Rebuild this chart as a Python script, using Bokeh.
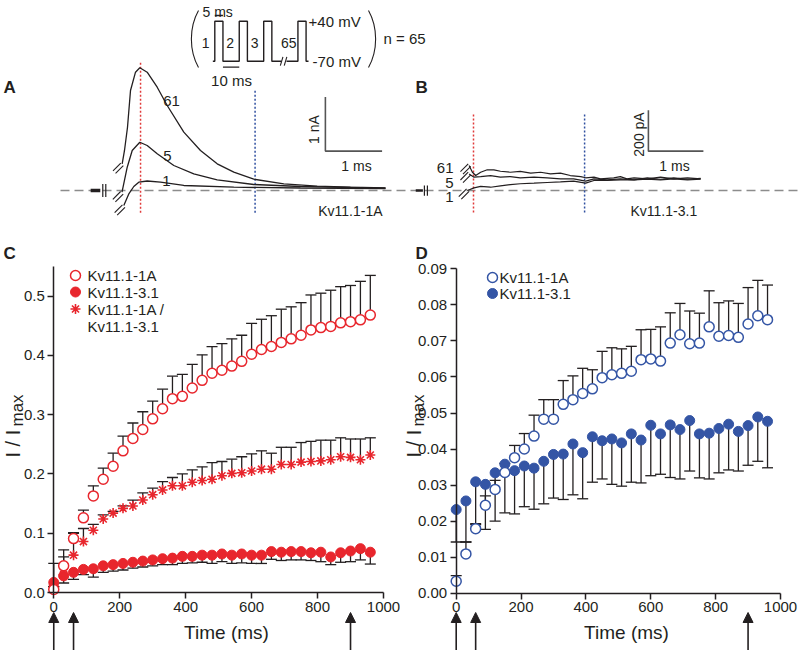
import math
from bokeh.plotting import figure
from bokeh.models import Range1d, Label, Arrow, NormalHead, FixedTicker, PrintfTickFormatter
from bokeh.layouts import column, row
from bokeh.embed import file_html
from bokeh.resources import INLINE

FONT = "Liberation Sans"
INK = "#231f20"
RED = "#e8262d"
BLUE = "#3455a5"
DASH_GREY = "#8c8c8c"
BAR_GREY = "#555555"
WIN_RED = "#e03a3a"
WIN_BLUE = "#3050a0"

# ---------------- data: panels C and D ----------------
time_ms = [0, 30, 60, 90, 120, 150, 180, 210, 240, 270, 300, 330, 360, 390, 420, 450,
           480, 510, 540, 570, 600, 630, 660, 690, 720, 750, 780, 810, 840, 870, 900, 930, 960]

c_1a = [0.005, 0.045, 0.091, 0.126, 0.163, 0.191, 0.213, 0.239, 0.260, 0.275, 0.293, 0.310,
        0.327, 0.331, 0.345, 0.358, 0.370, 0.375, 0.382, 0.390, 0.402, 0.410, 0.415, 0.422,
        0.428, 0.434, 0.443, 0.447, 0.449, 0.455, 0.457, 0.460, 0.468]
c_1a_upper = [0.010, 0.072, 0.101, 0.139, 0.180, 0.210, 0.235, 0.264, 0.286, 0.305, 0.323, 0.343,
              0.365, 0.368, 0.385, 0.401, 0.415, 0.420, 0.428, 0.434, 0.454, 0.461, 0.467, 0.478,
              0.482, 0.489, 0.502, 0.505, 0.510, 0.516, 0.518, 0.525, 0.535]
c_31 = [0.017, 0.028, 0.034, 0.039, 0.040, 0.045, 0.047, 0.049, 0.051, 0.053, 0.055, 0.057,
        0.058, 0.061, 0.061, 0.063, 0.063, 0.065, 0.063, 0.065, 0.063, 0.063, 0.069, 0.068,
        0.069, 0.069, 0.067, 0.068, 0.060, 0.067, 0.070, 0.074, 0.068]
c_31_lower = [0.010, 0.016, 0.022, 0.030, 0.026, 0.034, 0.036, 0.038, 0.041, 0.043, 0.045, 0.047,
              0.047, 0.049, 0.050, 0.051, 0.049, 0.052, 0.049, 0.050, 0.049, 0.049, 0.056, 0.054,
              0.055, 0.055, 0.054, 0.052, 0.047, 0.051, 0.052, 0.055, 0.048]
c_mix = [0.012, 0.030, 0.063, 0.086, 0.105, 0.124, 0.134, 0.142, 0.146, 0.156, 0.165, 0.173,
         0.180, 0.180, 0.186, 0.189, 0.191, 0.197, 0.201, 0.202, 0.205, 0.208, 0.208, 0.216,
         0.216, 0.220, 0.221, 0.222, 0.224, 0.229, 0.228, 0.224, 0.232]
c_mix_upper = [0.049, 0.060, 0.100, 0.108, 0.115, 0.131, 0.137, 0.146, 0.156, 0.168, 0.176, 0.187,
               0.194, 0.200, 0.207, 0.212, 0.219, 0.221, 0.225, 0.229, 0.234, 0.239, 0.235, 0.245,
               0.245, 0.253, 0.255, 0.257, 0.257, 0.261, 0.259, 0.259, 0.261]

d_1a = [0.0033, 0.0109, 0.0179, 0.0244, 0.0288, 0.0335, 0.0376, 0.0400, 0.0436, 0.0483, 0.0483,
        0.0524, 0.0537, 0.0554, 0.0567, 0.0598, 0.0606, 0.0610, 0.0616, 0.0648, 0.0650, 0.0644,
        0.0694, 0.0717, 0.0692, 0.0694, 0.0739, 0.0713, 0.0715, 0.0710, 0.0747, 0.0770, 0.0759]
d_1a_upper = [0.0049, 0.0142, 0.0193, 0.0270, 0.0313, 0.0360, 0.0410, 0.0443, 0.0494, 0.0537, 0.0537,
              0.0590, 0.0603, 0.0624, 0.0620, 0.0671, 0.0681, 0.0678, 0.0685, 0.0731, 0.0732, 0.0739,
              0.0778, 0.0804, 0.0783, 0.0777, 0.0839, 0.0806, 0.0811, 0.0804, 0.0848, 0.0868, 0.0855]
d_31 = [0.0232, 0.0256, 0.0309, 0.0302, 0.0334, 0.0358, 0.0340, 0.0353, 0.0347, 0.0366, 0.0385,
        0.0386, 0.0414, 0.0390, 0.0434, 0.0423, 0.0428, 0.0417, 0.0442, 0.0425, 0.0466, 0.0442,
        0.0467, 0.0454, 0.0479, 0.0442, 0.0444, 0.0457, 0.0469, 0.0449, 0.0465, 0.0489, 0.0477]
d_31_lower = [0.0142, 0.0142, 0.0190, 0.0177, 0.0200, 0.0223, 0.0220, 0.0240, 0.0233, 0.0248, 0.0264,
              0.0260, 0.0273, 0.0262, 0.0308, 0.0317, 0.0302, 0.0297, 0.0308, 0.0306, 0.0326, 0.0330,
              0.0321, 0.0317, 0.0339, 0.0320, 0.0317, 0.0334, 0.0342, 0.0339, 0.0355, 0.0366, 0.0348]

x_ticks = [0, 200, 400, 600, 800, 1000]
c_y_ticks = [0.0, 0.1, 0.2, 0.3, 0.4, 0.5]
d_y_ticks = [0.00, 0.01, 0.02, 0.03, 0.04, 0.05, 0.06, 0.07, 0.08, 0.09]
arrow_times_ms = [0, 60, 900]

# ---------------- data: example traces ----------------
# panel A, Kv11.1-1A (ms, nA)
a61_t = [0.026, 0.067, 0.12, 0.173, 0.261, 0.337, 0.467, 0.644, 0.820, 1.113, 1.407, 1.702, 1.995,
         2.347, 2.877, 3.466, 4.053, 4.670]
a61_i = [0.494, 0.741, 1.172, 1.852, 2.191, 2.272, 2.191, 1.913, 1.574, 1.080, 0.741, 0.494, 0.339,
         0.209, 0.124, 0.080, 0.061, 0.050]
a5_t = [0.023, 0.115, 0.203, 0.337, 0.467, 0.644, 0.937, 1.289, 1.702, 2.347, 3.171, 4.670]
a5_i = [-0.031, 0.431, 0.741, 0.894, 0.833, 0.680, 0.463, 0.309, 0.198, 0.111, 0.074, 0.043]
a1_t = [0.055, 0.146, 0.231, 0.319, 0.467, 0.702, 1.113, 1.995, 3.171, 4.670]
a1_i = [-0.278, -0.056, 0.074, 0.154, 0.176, 0.154, 0.093, 0.061, 0.046, 0.037]
# panel B, Kv11.1-3.1 (ms, pA)
b61_t = [0.27, 0.33, 0.39, 0.48, 0.60, 0.72, 0.84, 1.02, 1.20, 1.39, 1.57, 1.75, 1.93, 2.11, 2.30,
         2.39, 2.54, 2.66, 2.90, 3.02, 3.14, 3.27, 3.51, 3.75, 3.99, 4.24, 4.48]
b61_i = [122, 89, 73, 89, 101, 101, 94, 89, 93, 85, 89, 81, 85, 73, 68, 62, 65, 57, 62, 68, 57, 62,
         57, 65, 57, 62, 57]
b5_t = [0.27, 0.36, 0.48, 0.66, 0.84, 1.02, 1.20, 1.45, 1.69, 1.93, 2.17, 2.39, 2.54, 2.78, 3.02,
        3.27, 3.51, 3.75, 3.99, 4.24, 4.48]
b5_i = [81, 65, 68, 73, 65, 68, 62, 65, 62, 57, 57, 46, 57, 52, 57, 52, 62, 55, 62, 55, 59]
b1_t = [0.24, 0.36, 0.48, 0.66, 0.84, 1.02, 1.20, 1.45, 1.69, 1.93, 2.17, 2.39, 2.54, 2.78, 3.02,
        3.27, 3.51, 3.75, 3.99, 4.24, 4.48]
b1_i = [0, 13, 20, 16, 23, 29, 33, 36, 39, 42, 46, 36, 49, 49, 52, 52, 55, 52, 57, 52, 55]
trace_labels = ["61", "5", "1"]
window_ms = [0.35, 2.37]          # peak / late analysis times
a_hold_t = [-0.53, -0.36]
b_hold_t = [-0.70, -0.57]

# ---------------- data: voltage protocol ----------------
pulse_starts_ms = [0, 15, 30, 51]
pulse_names = ["1", "2", "3", "65"]
pulse_width_ms = 5
interval_ms = 10
v_hold_mV = -70
v_test_mV = 40
protocol_break_ms = [40.8, 44.0]

# ======================================================================
# top figure (panels A, B and protocol); default ranges = page pixels
TOP_L, TOP_T, TOP_W, TOP_H = 0, 0, 800, 225
top = figure(width=TOP_W, height=TOP_H,
             x_range=Range1d(TOP_L, TOP_L + TOP_W), y_range=Range1d(TOP_T + TOP_H, TOP_T),
             x_axis_type=None, y_axis_type=None, min_border=0,
             outline_line_color=None, output_backend="svg", toolbar_location=None)
top.grid.visible = False

A_T0, A_SX, BASE, A_SY = 120.2, 56.7, 190.0, 54.0
B_T0, B_SX, B_SY = 453.75, 55.0, 0.205
P_T0, P_SX, P_SY = 214.3, 1.63, 40.0 / 110.0
P_ZERO = 20.7 + v_test_mV * P_SY


def xr(o, s):
    return Range1d((TOP_L - o) / s, (TOP_L + TOP_W - o) / s)


def yr(o, s):
    return Range1d((o - TOP_T - TOP_H) / s, (o - TOP_T) / s)


top.extra_x_ranges = {"a": xr(A_T0, A_SX), "b": xr(B_T0, B_SX), "p": xr(P_T0, P_SX)}
top.extra_y_ranges = {"a": yr(BASE, A_SY), "b": yr(BASE, B_SY), "p": yr(P_ZERO, P_SY)}


def txt(fig, x, y, text, size="15px", align="left", base="alphabetic", bold=False, angle=0.0,
        color=INK, **kw):
    fig.add_layout(Label(x=x, y=y, text=text, text_font=FONT, text_font_size=size,
                         text_align=align, text_baseline=base, angle=angle, text_color=color,
                         text_font_style="bold" if bold else "normal", **kw))


def slashes(x, y, sx, sy, dx=-4.0, dy=4.5, half=5.5, gap=1.8):
    r2 = 1 / math.sqrt(2)
    x0, y0, x1, y1 = [], [], [], []
    for g in (-gap, gap):
        ax, ay = dx - half * r2 + g * r2, dy + half * r2 + g * r2
        bx, by = dx + half * r2 + g * r2, dy - half * r2 + g * r2
        x0.append(x + ax / sx); y0.append(y - ay / sy)
        x1.append(x + bx / sx); y1.append(y - by / sy)
    return x0, y0, x1, y1


# baseline dashed line
xa_end = top.extra_x_ranges["a"].end
top.segment(x0=[(60 - A_T0) / A_SX], y0=[0], x1=[xa_end], y1=[0], x_range_name="a", y_range_name="a",
            line_color=DASH_GREY, line_width=1.6, line_dash="9 5")

# analysis windows
top.segment(x0=window_ms, y0=[-0.41, -0.41], x1=window_ms, y1=[2.37, 1.85],
            x_range_name="a", y_range_name="a", line_color=[WIN_RED, WIN_BLUE],
            line_width=1.5, line_dash="2 2")
top.segment(x0=window_ms, y0=[-107, -107], x1=window_ms, y1=[376, 376],
            x_range_name="b", y_range_name="b", line_color=[WIN_RED, WIN_BLUE],
            line_width=1.5, line_dash="2 2")

# example traces
for tt, ii in [(a61_t, a61_i), (a5_t, a5_i), (a1_t, a1_i)]:
    top.line(tt, ii, x_range_name="a", y_range_name="a", line_color=INK, line_width=1.3)
    s = slashes(tt[0], ii[0], A_SX, A_SY)
    top.segment(*s, x_range_name="a", y_range_name="a", line_color=INK, line_width=1.1)
for tt, ii in [(b61_t, b61_i), (b5_t, b5_i), (b1_t, b1_i)]:
    top.line(tt, ii, x_range_name="b", y_range_name="b", line_color=INK, line_width=1.2)
    s = slashes(tt[0], ii[0], B_SX, B_SY, dx=-3.5, dy=3.5)
    top.segment(*s, x_range_name="b", y_range_name="b", line_color=INK, line_width=1.1)

# holding-current marks
top.segment(x0=[a_hold_t[0]], y0=[0], x1=[a_hold_t[1]], y1=[0], x_range_name="a", y_range_name="a",
            line_color=INK, line_width=3.5)
top.segment(x0=[a_hold_t[1] + 2.5 / A_SX, a_hold_t[1] + 5.5 / A_SX], y0=[-0.12, -0.12],
            x1=[a_hold_t[1] + 2.5 / A_SX, a_hold_t[1] + 5.5 / A_SX], y1=[0.12, 0.12],
            x_range_name="a", y_range_name="a", line_color=INK, line_width=1.2)
top.segment(x0=[b_hold_t[0]], y0=[0], x1=[b_hold_t[1]], y1=[0], x_range_name="b", y_range_name="b",
            line_color=INK, line_width=2.5)
top.segment(x0=[b_hold_t[1] + 1.5 / B_SX, b_hold_t[1] + 4.5 / B_SX], y0=[-25, -25],
            x1=[b_hold_t[1] + 1.5 / B_SX, b_hold_t[1] + 4.5 / B_SX], y1=[25, 25],
            x_range_name="b", y_range_name="b", line_color=INK, line_width=1.2)

# scale bars
a_sb = (3.61, 0.73)
top.line([a_sb[0], a_sb[0], a_sb[0] + 1.0], [a_sb[1] + 1.0, a_sb[1], a_sb[1]],
         x_range_name="a", y_range_name="a", line_color=BAR_GREY, line_width=1.6)
b_sb = (3.53, 192.0)
top.line([b_sb[0], b_sb[0], b_sb[0] + 1.0], [b_sb[1] + 200.0, b_sb[1], b_sb[1]],
         x_range_name="b", y_range_name="b", line_color=BAR_GREY, line_width=1.6)

# protocol waveform
pt, pv = [-1.2], [v_hold_mV]
for k, s0 in enumerate(pulse_starts_ms):
    if k == 3:
        pt += [protocol_break_ms[0], float("nan"), protocol_break_ms[1]]
        pv += [v_hold_mV, float("nan"), v_hold_mV]
    pt += [s0, s0, s0 + pulse_width_ms, s0 + pulse_width_ms]
    pv += [v_hold_mV, v_test_mV, v_test_mV, v_hold_mV]
pt.append(57.5); pv.append(v_hold_mV)
top.line(pt, pv, x_range_name="p", y_range_name="p", line_color=INK, line_width=1.4)
top.segment(x0=[40.2, 42.6], y0=[-82, -82], x1=[41.8, 44.2], y1=[-58, -58],
            x_range_name="p", y_range_name="p", line_color=INK, line_width=1.1)
top.segment(x0=[0, pulse_width_ms], y0=[55.7, -86.5], x1=[pulse_width_ms, pulse_width_ms + interval_ms],
            y1=[55.7, -86.5], x_range_name="p", y_range_name="p", line_color=INK, line_width=1.3)
for s0, nm in zip(pulse_starts_ms, pulse_names):
    txt(top, s0 - 5.6, -21, nm, size="14px", align="center", base="middle",
        x_range_name="p", y_range_name="p")
txt(top, 57.5, v_test_mV, "+40 mV", size="15px", base="middle", x_range_name="p", y_range_name="p")
txt(top, 60.0, v_hold_mV, "-70 mV", size="15px", base="middle", x_range_name="p", y_range_name="p")
txt(top, 202, 11.5, "5 ms", size="14px")
txt(top, 231, 80, "10 ms", size="15px", align="center")
txt(top, 383, 38, "n = 65", size="15px", base="middle")
top.bezier(x0=[198, 368], y0=[10, 10], x1=[198, 368], y1=[67, 67], cx0=[188.5, 377.5], cy0=[27, 27],
           cx1=[188.5, 377.5], cy1=[50, 50], line_color=INK, line_width=1.1)

# panel letters and trace annotations
txt(top, 3, 87, "A", size="17px", bold=True)
txt(top, 415, 87, "B", size="17px", bold=True)
for lab, xx, yy in zip(trace_labels, [171, 167, 166], [100, 155, 180]):
    txt(top, xx, yy, lab, size="15px", align="center")
for lab, yy in zip(trace_labels, [167, 182, 196]):
    txt(top, 453, yy, lab, size="15px", align="right")
txt(top, 382, 210, "Kv11.1-1A", size="14px", align="right")
txt(top, 630, 210, "Kv11.1-3.1", size="14px")
txt(top, 313, 129, "1 nA", size="14px", align="center", base="middle", angle=math.pi / 2)
txt(top, 356, 165, "1 ms", size="14px", align="center")
txt(top, 638, 134, "200 pA", size="14px", align="center", base="middle", angle=math.pi / 2)
txt(top, 674, 165, "1 ms", size="14px", align="center")

# ======================================================================
BOT_T, BOT_H = 225, 425


def make_panel(left, width, x0p, sx, y0p, sy, ybound, yticks, yfmt):
    xs = (left - x0p) / sx
    xe = (left + width - x0p) / sx
    ys = (y0p - (BOT_T + BOT_H)) / sy
    ye = (y0p - BOT_T) / sy
    p = figure(width=width, height=BOT_H, x_range=Range1d(xs, xe), y_range=Range1d(ys, ye),
               min_border=0, outline_line_color=None, output_backend="svg", toolbar_location=None)
    p.grid.visible = False
    p.xaxis.fixed_location = 0
    p.yaxis.fixed_location = 0
    p.xaxis.bounds = (0, 1000)
    p.yaxis.bounds = (0, ybound)
    p.xaxis.ticker = FixedTicker(ticks=x_ticks)
    p.yaxis.ticker = FixedTicker(ticks=yticks)
    p.yaxis.formatter = PrintfTickFormatter(format=yfmt)
    for ax in (p.xaxis[0], p.yaxis[0]):
        ax.axis_line_color = INK
        ax.axis_line_width = 1.5
        ax.major_tick_line_color = INK
        ax.major_tick_line_width = 1.5
        ax.major_tick_out = 6
        ax.major_tick_in = 0
        ax.minor_tick_out = 0
        ax.minor_tick_in = 0
        ax.major_label_text_font = FONT
        ax.major_label_text_font_size = "15px"
        ax.major_label_text_color = INK
        ax.major_label_standoff = 3
    fx = lambda px: (px - x0p) / sx
    fy = lambda py: (y0p - py) / sy
    return p, fx, fy


# ---- panel C ----
pC, cx, cy = make_panel(0, 400, 53.26, 0.32974, 592.0, 592.7, 0.55, c_y_ticks, "%.1f")
pC.segment(time_ms, c_1a, time_ms, c_1a_upper, line_color=INK, line_width=1.3)
pC.scatter(time_ms, c_1a_upper, marker="dash", size=11, line_color=INK, line_width=1.3)
pC.segment(time_ms, c_mix, time_ms, c_mix_upper, line_color=INK, line_width=1.3)
pC.scatter(time_ms, c_mix_upper, marker="dash", size=11, line_color=INK, line_width=1.3)
pC.segment(time_ms, c_31, time_ms, c_31_lower, line_color=INK, line_width=1.3)
pC.scatter(time_ms, c_31_lower, marker="dash", size=11, line_color=INK, line_width=1.3)
pC.scatter(time_ms, c_31, marker="circle", size=10, fill_color=RED, line_color=RED)
pC.scatter(time_ms, c_mix, marker="asterisk", size=10, line_color=RED, line_width=1.6)
pC.scatter(time_ms, c_1a, marker="circle", size=10, fill_color="white", line_color=RED, line_width=1.5)

lgx = cx(75)
pC.scatter([lgx], [cy(275)], marker="circle", size=10, fill_color="white", line_color=RED, line_width=1.5)
pC.scatter([lgx], [cy(291.5)], marker="circle", size=10, fill_color=RED, line_color=RED)
pC.scatter([lgx], [cy(308.5)], marker="asterisk", size=10, line_color=RED, line_width=1.6)
for yy, t in [(275, "Kv11.1-1A"), (291.5, "Kv11.1-3.1"), (308.5, "Kv11.1-1A /"), (325.5, "Kv11.1-3.1")]:
    txt(pC, cx(87), cy(yy), t, size="15px", base="middle")

txt(pC, cx(3), cy(253), "C", size="17px", bold=True)
txt(pC, cx(226), cy(632), "Time (ms)", size="19px", align="center")
txt(pC, cx(12), cy(457), "I / I", size="20px", base="middle", angle=math.pi / 2)
txt(pC, cx(17), cy(426), "max", size="17px", base="middle", angle=math.pi / 2)
for t in arrow_times_ms:
    pC.add_layout(Arrow(end=NormalHead(size=10, fill_color=INK, line_color=INK, line_width=1),
                        x_start=t, y_start=cy(652), x_end=t, y_end=cy(612),
                        line_color=INK, line_width=1.6))

# ---- panel D ----
pD, dx, dy = make_panel(400, 400, 455.7, 0.3243, 592.7, 3604.0, 0.09, d_y_ticks, "%.2f")
pD.segment(time_ms, d_1a, time_ms, d_1a_upper, line_color=INK, line_width=1.3)
pD.scatter(time_ms, d_1a_upper, marker="dash", size=11, line_color=INK, line_width=1.3)
pD.segment(time_ms, d_31, time_ms, d_31_lower, line_color=INK, line_width=1.3)
pD.scatter(time_ms, d_31_lower, marker="dash", size=11, line_color=INK, line_width=1.3)
pD.scatter(time_ms, d_31, marker="circle", size=10, fill_color=BLUE, line_color=BLUE)
pD.scatter(time_ms, d_1a, marker="circle", size=10, fill_color="white", line_color=BLUE, line_width=1.5)

pD.scatter([dx(492)], [dy(277)], marker="circle", size=10, fill_color="white", line_color=BLUE, line_width=1.5)
pD.scatter([dx(492)], [dy(293)], marker="circle", size=10, fill_color=BLUE, line_color=BLUE)
txt(pD, dx(499), dy(277), "Kv11.1-1A", size="15px", base="middle")
txt(pD, dx(499), dy(293), "Kv11.1-3.1", size="15px", base="middle")

txt(pD, dx(415), dy(253), "D", size="17px", bold=True)
txt(pD, dx(626), dy(632), "Time (ms)", size="19px", align="center")
txt(pD, dx(413), dy(457), "I / I", size="20px", base="middle", angle=math.pi / 2)
txt(pD, dx(418), dy(426), "max", size="17px", base="middle", angle=math.pi / 2)
for t in arrow_times_ms:
    pD.add_layout(Arrow(end=NormalHead(size=10, fill_color=INK, line_color=INK, line_width=1),
                        x_start=t, y_start=dy(652), x_end=t, y_end=dy(612),
                        line_color=INK, line_width=1.6))

layout = column(top, row(pC, pD, spacing=0), spacing=0)
open("out.html", "w").write(file_html(layout, INLINE))
